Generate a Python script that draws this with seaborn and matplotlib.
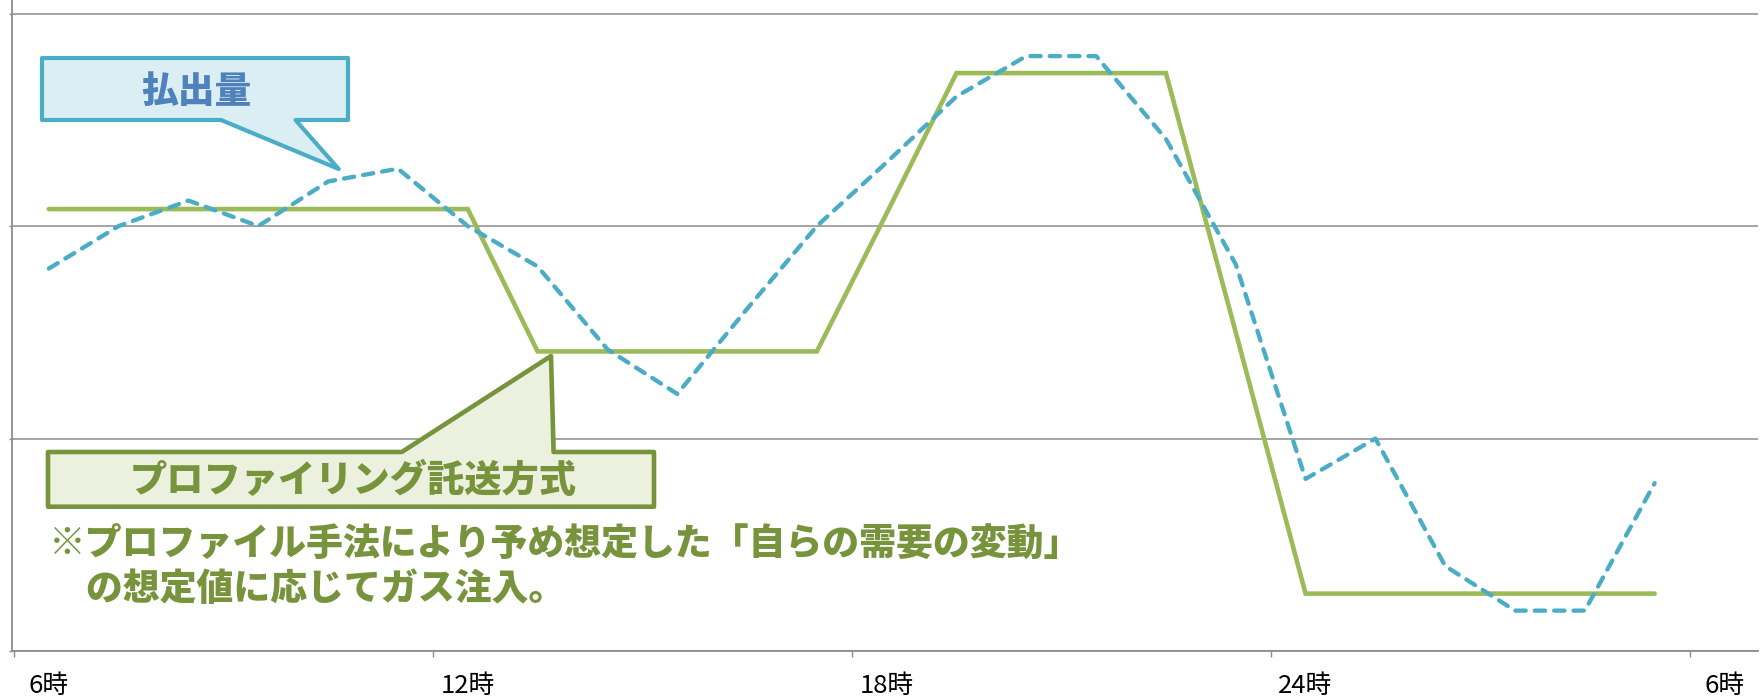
import matplotlib
matplotlib.use("Agg")
import matplotlib.pyplot as plt
import matplotlib.transforms as mtransforms
from matplotlib.patches import Polygon
import seaborn as sns
import pandas as pd

# Hourly slots (start hour of each slot, 6時 of one day to 6時 of the next)
hours = [6, 7, 8, 9, 10, 11, 12, 13, 14, 15, 16, 17,
         18, 19, 20, 21, 22, 23, 24, 25, 26, 27, 28, 29]

# 払出量 (actual send-out)
sendout = [1.80, 2.00, 2.12, 2.00, 2.21, 2.27, 2.00, 1.81, 1.42, 1.21, 1.61, 2.00,
           2.30, 2.61, 2.80, 2.80, 2.41, 1.82, 0.81, 1.00, 0.40, 0.19, 0.19, 0.79]

# プロファイリング託送方式 (gas injection following the assumed profile)
profile = [2.08, 2.08, 2.08, 2.08, 2.08, 2.08, 2.08, 1.41, 1.41, 1.41, 1.41, 1.41,
           2.06, 2.72, 2.72, 2.72, 2.72, 1.50, 0.27, 0.27, 0.27, 0.27, 0.27, 0.27]

tick_hours = [6, 12, 18, 24, 30]
tick_labels = ["6時", "12時", "18時", "24時", "6時"]

label_sendout = "払出量"
label_profile = "プロファイリング託送方式"
note_text = "※プロファイル手法により予め想定した「自らの需要の変動」\n\u3000の想定値に応じてガス注入。"

sns.set_style("white")
plt.rcParams["font.family"] = ["Noto Sans CJK JP", "DejaVu Sans"]

W, H = 1764, 700
fig = plt.figure(figsize=(W / 100, H / 100), dpi=100)
ax = fig.add_axes([11.5 / W, 49 / H, (1758 - 11.5) / W, 651 / H])

# each value sits in the middle of its hour slot
df = pd.DataFrame({
    "slot": [h + 0.5 for h in hours],
    "sendout": sendout,
    "profile": profile,
})

BLUE = "#4BACC6"
GREEN = "#9BBB59"
DARK_GREEN = "#77933C"
GRID = "#8C8C8C"

sns.lineplot(data=df, x="slot", y="profile", ax=ax, color=GREEN,
             linewidth=3.3, solid_joinstyle="miter", solid_capstyle="round", zorder=3)
sns.lineplot(data=df, x="slot", y="sendout", ax=ax, color=BLUE,
             linewidth=3.1, linestyle=(0, (2.4, 2.1)),
             dash_capstyle="round", dash_joinstyle="round", zorder=4)

ax.set_xlim(5.965, 30.98)
ax.set_ylim(0, 3.064)
ax.set_xlabel("")
ax.set_ylabel("")

# horizontal gridlines
ax.set_yticks([0, 1, 2, 3])
ax.set_yticklabels([])
ax.yaxis.grid(True, color=GRID, linewidth=1.1)
ax.xaxis.grid(False)
ax.set_axisbelow(True)
ax.tick_params(axis="y", which="major", direction="out", length=2.4,
               width=1.0, color=GRID, left=True)

# tick marks on slot boundaries, labels centred in the slot
ax.set_xticks(tick_hours)
ax.set_xticklabels([])
ax.set_xticks([h + 0.5 for h in tick_hours], minor=True)
ax.set_xticklabels(tick_labels, minor=True)
ax.tick_params(axis="x", which="major", direction="out", length=4.5,
               width=1.0, color=GRID, bottom=True)
ax.tick_params(axis="x", which="minor", length=0, pad=15.5,
               labelsize=18.5, labelcolor="black")

for side in ["top", "right"]:
    ax.spines[side].set_visible(False)
for side in ["left", "bottom"]:
    ax.spines[side].set_color(GRID)
    ax.spines[side].set_linewidth(1.3)

# figure pixel coordinates (origin top-left)
px = mtransforms.Affine2D().scale(1 / W, -1 / H).translate(0, 1) + fig.transFigure

# callout for the send-out line
blue_box = [(42, 58), (348, 58), (348, 120), (295.5, 120), (338.7, 169),
            (221, 120), (42, 120)]
fig.patches.append(Polygon(blue_box, closed=True, transform=px,
                           facecolor="#DAEEF3", edgecolor=BLUE,
                           linewidth=3.0, joinstyle="round", zorder=5))
fig.text(196, 92, label_sendout, transform=px, ha="center", va="center",
         fontsize=26.5, fontweight="heavy", color="#4F81BD", zorder=6)

# callout for the profiling line
green_box = [(48, 452), (401.8, 452), (551, 356), (553.6, 452),
             (654, 452), (654, 506.7), (48, 506.7)]
fig.patches.append(Polygon(green_box, closed=True, transform=px,
                           facecolor="#EBF1DE", edgecolor=DARK_GREEN,
                           linewidth=3.3, joinstyle="round", zorder=5))
fig.text(353, 481, label_profile, transform=px, ha="center", va="center",
         fontsize=26.8, fontweight="heavy", color=DARK_GREEN, zorder=6)

fig.text(49, 566, note_text, transform=px, ha="left", va="center",
         fontsize=26.6, fontweight="heavy", color=DARK_GREEN,
         linespacing=1.24, zorder=6)

fig.savefig("out.png", dpi=100, facecolor="white")
